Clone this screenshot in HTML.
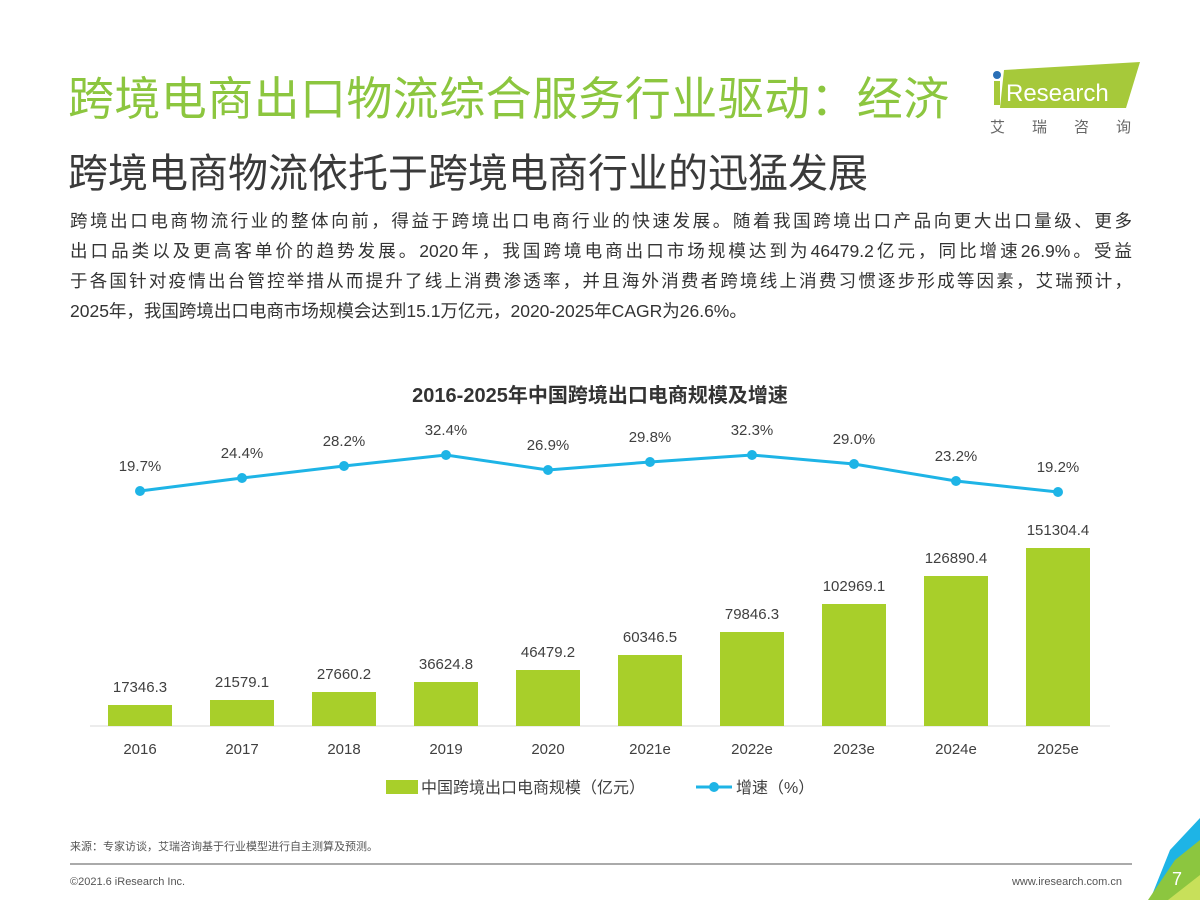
<!DOCTYPE html>
<html><head><meta charset="utf-8"><style>
html,body{margin:0;padding:0;background:#fff;width:1200px;height:900px;overflow:hidden;position:relative;font-family:"Liberation Sans","Noto Sans CJK SC",sans-serif}
.t1{position:absolute;left:68px;top:66px;font-size:46px;color:#8cc63f;font-family:"Noto Sans CJK SC",sans-serif;white-space:nowrap;line-height:60px;letter-spacing:0.4px}
.t2{position:absolute;left:68px;top:142px;font-size:40px;color:#3a3a3a;font-family:"Noto Sans CJK SC",sans-serif;white-space:nowrap;line-height:56px}
.body{position:absolute;left:70px;top:206px;width:1062px;font-size:17.5px;color:#333;line-height:30px;font-family:"Liberation Sans","Noto Sans CJK SC",sans-serif}
.body div{text-align:justify;text-align-last:justify;white-space:nowrap}
.body div.last{text-align-last:left}
</style></head><body>
<div class="t1">跨境电商出口物流综合服务行业驱动：经济</div>
<div class="t2">跨境电商物流依托于跨境电商行业的迅猛发展</div>
<div class="body">
<div>跨境出口电商物流行业的整体向前，得益于跨境出口电商行业的快速发展。随着我国跨境出口产品向更大出口量级、更多</div>
<div>出口品类以及更高客单价的趋势发展。2020年，我国跨境电商出口市场规模达到为46479.2亿元，同比增速26.9%。受益</div>
<div>于各国针对疫情出台管控举措从而提升了线上消费渗透率，并且海外消费者跨境线上消费习惯逐步形成等因素，艾瑞预计，</div>
<div class="last">2025年，我国跨境出口电商市场规模会达到15.1万亿元，2020-2025年CAGR为26.6%。</div>
</div>
<svg width="1200" height="900" style="position:absolute;left:0;top:0" font-family="Liberation Sans, Noto Sans CJK SC, sans-serif">
<polygon points="1004,70 1140,62 1126,108 1000,108" fill="#a6c93a"/>
<circle cx="997" cy="75" r="4" fill="#2a6fb6"/>
<rect x="994" y="81" width="6" height="24" fill="#a6c93a"/>
<text x="1006" y="101" font-size="24" fill="#fff">Research</text>
<text x="990" y="132" font-size="15" fill="#666" letter-spacing="27">艾瑞咨询</text>
<text x="600" y="402" font-size="20" font-weight="bold" fill="#333" text-anchor="middle">2016-2025年中国跨境出口电商规模及增速</text>
<line x1="90" y1="726" x2="1110" y2="726" stroke="#d9d9d9"/>
<g fill="#a8cf2a">
<rect x="108" y="705" width="64" height="21"/>
<rect x="210" y="700" width="64" height="26"/>
<rect x="312" y="692" width="64" height="34"/>
<rect x="414" y="682" width="64" height="44"/>
<rect x="516" y="670" width="64" height="56"/>
<rect x="618" y="655" width="64" height="71"/>
<rect x="720" y="632" width="64" height="94"/>
<rect x="822" y="604" width="64" height="122"/>
<rect x="924" y="576" width="64" height="150"/>
<rect x="1026" y="548" width="64" height="178"/>
</g>
<g font-size="15" fill="#404040" text-anchor="middle">
<text x="140" y="692">17346.3</text><text x="242" y="687">21579.1</text><text x="344" y="679">27660.2</text><text x="446" y="669">36624.8</text><text x="548" y="657">46479.2</text><text x="650" y="642">60346.5</text><text x="752" y="619">79846.3</text><text x="854" y="591">102969.1</text><text x="956" y="563">126890.4</text><text x="1058" y="535">151304.4</text>
<text x="140" y="754">2016</text><text x="242" y="754">2017</text><text x="344" y="754">2018</text><text x="446" y="754">2019</text><text x="548" y="754">2020</text><text x="650" y="754">2021e</text><text x="752" y="754">2022e</text><text x="854" y="754">2023e</text><text x="956" y="754">2024e</text><text x="1058" y="754">2025e</text>
<text x="140" y="471">19.7%</text><text x="242" y="458">24.4%</text><text x="344" y="446">28.2%</text><text x="446" y="435">32.4%</text><text x="548" y="450">26.9%</text><text x="650" y="442">29.8%</text><text x="752" y="435">32.3%</text><text x="854" y="444">29.0%</text><text x="956" y="461">23.2%</text><text x="1058" y="472">19.2%</text>
</g>
<polyline points="140,491 242,478 344,466 446,455 548,470 650,462 752,455 854,464 956,481 1058,492" fill="none" stroke="#1eb4e6" stroke-width="3"/>
<g fill="#1eb4e6"><circle cx="140" cy="491" r="5"/><circle cx="242" cy="478" r="5"/><circle cx="344" cy="466" r="5"/><circle cx="446" cy="455" r="5"/><circle cx="548" cy="470" r="5"/><circle cx="650" cy="462" r="5"/><circle cx="752" cy="455" r="5"/><circle cx="854" cy="464" r="5"/><circle cx="956" cy="481" r="5"/><circle cx="1058" cy="492" r="5"/></g>
<rect x="386" y="780" width="32" height="14" fill="#a8cf2a"/>
<text x="421" y="793" font-size="16" fill="#404040">中国跨境出口电商规模（亿元）</text>
<line x1="696" y1="787" x2="732" y2="787" stroke="#1eb4e6" stroke-width="3"/><circle cx="714" cy="787" r="5" fill="#1eb4e6"/>
<text x="736" y="793" font-size="16" fill="#404040">增速（%）</text>
<text x="70" y="850" font-size="11" fill="#555">来源：专家访谈，艾瑞咨询基于行业模型进行自主测算及预测。</text>
<line x1="70" y1="864" x2="1132" y2="864" stroke="#aaa" stroke-width="2"/>
<text x="70" y="885" font-size="11" fill="#555">©2021.6 iResearch Inc.</text>
<text x="1122" y="885" font-size="11" fill="#555" text-anchor="end">www.iresearch.com.cn</text>
<polygon points="1200,818 1200,900 1150,900 1170,850" fill="#1eb4e6"/>
<polygon points="1200,840 1200,900 1148,900 1175,860" fill="#8cc63f"/>
<polygon points="1200,875 1200,900 1168,900" fill="#c8e05a"/>
<text x="1172" y="885" font-size="18" fill="#fff">7</text>
</svg>
</body></html>
